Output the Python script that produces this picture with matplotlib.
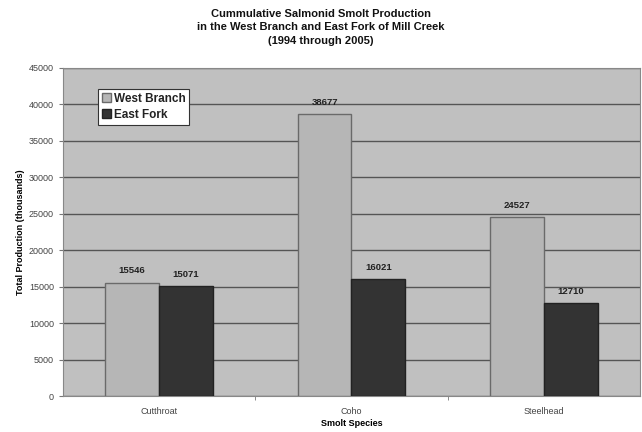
import numpy as np
import matplotlib
matplotlib.use('Agg')
import matplotlib.pyplot as plt

species = ['Cutthroat', 'Coho', 'Steelhead']
west_branch = [15546, 38677, 24527]
east_fork = [15071, 16021, 12710]

plt.rcParams['font.family'] = ['Liberation Sans', 'DejaVu Sans']

fig = plt.figure(figsize=(6.42, 4.32), dpi=100)
fig.patch.set_facecolor('white')
ax = fig.add_axes([0.098, 0.083, 0.899, 0.760])
ax.set_facecolor('#c0c0c0')

x = np.arange(len(species))
w = 0.28
b1 = ax.bar(x - w / 2, west_branch, w, color='#b6b6b6', edgecolor='#6a6a6a',
            linewidth=1.0, label='West Branch', zorder=3)
b2 = ax.bar(x + w / 2, east_fork, w, color='#333333', edgecolor='#222222',
            linewidth=1.0, label='East Fork', zorder=3)

for bars, vals in ((b1, west_branch), (b2, east_fork)):
    for r, v in zip(bars, vals):
        ax.text(r.get_x() + r.get_width() / 2, v + 1000, str(v), ha='center',
                va='bottom', fontsize=6.8, fontweight='bold', color='#222222')

ax.set_xlim(-0.5, 2.5)
ax.set_ylim(0, 45000)
ax.set_yticks(np.arange(0, 45001, 5000))
ax.yaxis.grid(True, color='#555555', linewidth=1.0, zorder=1)
ax.set_axisbelow(True)
ax.set_xticks(x)
ax.set_xticklabels(species)
ax.set_xticks([0.5, 1.5], minor=True)
ax.tick_params(axis='x', which='major', length=0, pad=8, labelsize=6.5, labelcolor='#444444')
ax.tick_params(axis='x', which='minor', length=3, color='#777777')
ax.tick_params(axis='y', length=3, color='#777777', labelsize=6.5, labelcolor='#444444')
for s in ax.spines.values():
    s.set_color('#888888')
    s.set_linewidth(0.8)

ax.set_xlabel('Smolt Species', fontsize=6.5, fontweight='bold', labelpad=2)
ax.set_ylabel('Total Production (thousands)', fontsize=6.5, fontweight='bold', labelpad=3)

fig.suptitle('Cummulative Salmonid Smolt Production\nin the West Branch and East Fork of Mill Creek\n(1994 through 2005)',
             fontsize=8, fontweight='bold', y=0.98, linespacing=1.45, color='#111111')

leg = ax.legend(loc='upper left', bbox_to_anchor=(0.05, 0.955), fontsize=8.5,
                frameon=True, fancybox=False, handlelength=0.8, handleheight=0.8,
                handletextpad=0.2, borderpad=0.35, labelspacing=0.35)
leg.get_frame().set_edgecolor('#333333')
leg.get_frame().set_linewidth(0.8)
leg.get_frame().set_facecolor('white')
leg.get_frame().set_alpha(1)
for t in leg.get_texts():
    t.set_fontweight('bold')
    t.set_color('#222222')

fig.savefig('out.png', dpi=100)
